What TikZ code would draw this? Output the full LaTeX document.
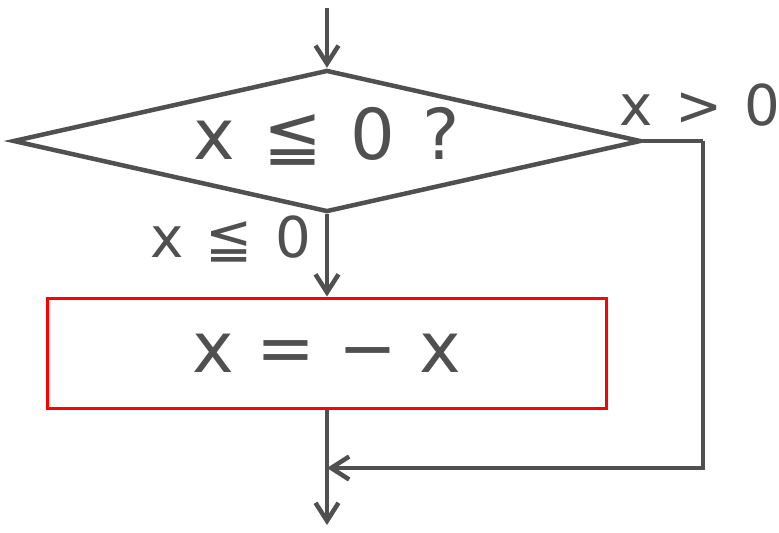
\documentclass[tikz,border=0pt]{standalone}
\usepackage{fontspec}
\setmainfont{DejaVu Sans}
\newfontfamily\widefont[WordSpace=1.25]{DejaVu Sans}
\definecolor{Linecol}{HTML}{505050}
\definecolor{Boxcol}{HTML}{FF0000}
\usetikzlibrary{arrows.meta, shapes.geometric, positioning}
\tikzset{
    >={Straight Barb[length=0.36cm, width=0.46cm]},
    font=\widefont\fontsize{32}{38}\selectfont,
    flow/.style={Linecol, line width=0.09cm},
    decision/.style={diamond, draw=Linecol, line width=0.09cm, shape aspect=4.4,
        minimum width=12.56cm, minimum height=2.84cm, inner sep=0pt,
        text=Linecol, font=\widefont\fontsize{40}{48}\selectfont},
    process/.style={rectangle, draw=Boxcol, line width=0.06cm,
        minimum width=11.16cm, minimum height=2.2cm,
        text=Linecol, font=\rmfamily\fontsize{40}{48}\selectfont}
}

\begin{document}
\begin{tikzpicture}
    \useasboundingbox (0,0) rectangle (15.58,-10.64);
    \def\X{6.54}

    % Decision and process
    \node[decision] (test) at (\X,-2.82) {\raisebox{0.32cm}{x ≦ 0 ?}\hspace{0.5cm}};
    \node[process] (negate) at (\X,-7.06) {x = − x};

    % Free ends of the flow
    \coordinate (entry) at (\X,-0.16);
    \coordinate (exit) at (\X,-10.5);
    \coordinate (corner) at (14.06,-2.82);
    \coordinate (merge) at (\X,-9.36);

    % Connectors
    \draw[flow, ->] (entry) -- (test.north);
    \draw[flow, ->] (test.south) -- (negate.north)
        node[pos=0.3, left, xshift=-0.16cm, text=Linecol] {x ≦ 0};
    \draw[flow] (test.east) -- (corner)
        node[above, xshift=-0.06cm, yshift=0.14cm, text=Linecol] {x > 0};
    \draw[flow, ->] (corner) |- (merge);
    \draw[flow, ->] (negate.south) -- (exit);
\end{tikzpicture}
\end{document}
